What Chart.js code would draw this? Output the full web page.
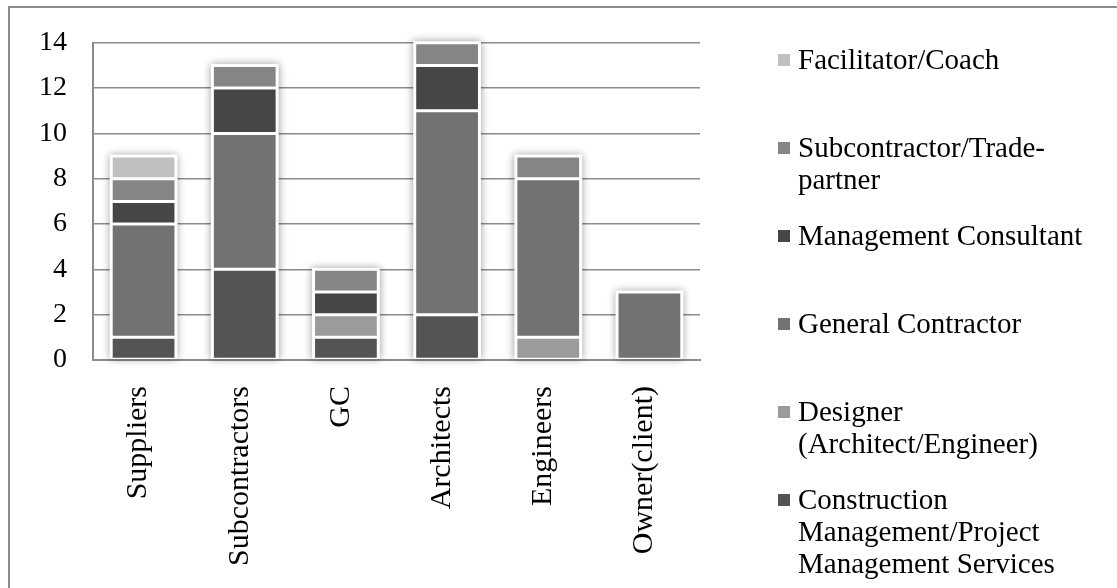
<!DOCTYPE html>
<html>
<head>
<meta charset="utf-8">
<script src="https://cdn.jsdelivr.net/npm/chart.js@4.4.1/dist/chart.umd.min.js"></script>
<style>
  html, body { margin: 0; padding: 0; background: #fff; }
  body { width: 1117px; height: 588px; overflow: hidden; position: relative; font-family: "Liberation Serif", "Times New Roman", serif; }
  #frame { position: absolute; left: 8px; top: 6px; width: 1200px; height: 700px; border-left: 2px solid #8c8c8c; border-top: 2px solid #8c8c8c; box-sizing: border-box; }
  #wrap { position: absolute; left: 0; top: 0; width: 1117px; height: 588px; }
  #legend { position: absolute; left: 778px; top: 0; width: 335px; }
  .item { position: absolute; left: 0; display: flex; align-items: flex-start; }
  .swatch { width: 12px; height: 12px; margin-top: 11px; margin-right: 8px; flex: none; }
  .text { font-size: 29px; line-height: 32px; color: #000; white-space: nowrap; }
</style>
</head>
<body>
<div id="frame"></div>
<div id="wrap"><canvas id="c"></canvas></div>
<div id="legend"></div>
<script>
// Respondent groups along the x axis
const categories = ['Suppliers', 'Subcontractors', 'GC', 'Architects', 'Engineers', 'Owner(client)'];

// Counts per role, stacked bottom to top
const constructionMgmt   = [1, 4, 1, 2, 0, 0];
const designer           = [0, 0, 1, 0, 1, 0];
const generalContractor  = [5, 6, 0, 9, 7, 3];
const mgmtConsultant     = [1, 2, 1, 2, 0, 0];
const subcontractor      = [1, 1, 1, 1, 1, 0];
const facilitator        = [1, 0, 0, 0, 0, 0];

const yTicks = [0, 2, 4, 6, 8, 10, 12, 14];

const series = [
  { label: ['Construction', 'Management/Project', 'Management Services'], data: constructionMgmt, color: '#545454' },
  { label: ['Designer', '(Architect/Engineer)'], data: designer, color: '#9b9b9b' },
  { label: ['General Contractor'], data: generalContractor, color: '#727272' },
  { label: ['Management Consultant'], data: mgmtConsultant, color: '#464646' },
  { label: ['Subcontractor/Trade-', 'partner'], data: subcontractor, color: '#858585' },
  { label: ['Facilitator/Coach'], data: facilitator, color: '#c0c0c0' }
];

const FONT = '"Liberation Serif", "Times New Roman", serif';

// Soft halo behind each stacked column
const columnHalo = {
  id: 'columnHalo',
  beforeDatasetsDraw(chart) {
    const ctx = chart.ctx;
    const n = chart.data.labels.length;
    for (let i = 0; i < n; i++) {
      let top = Infinity, bottom = -Infinity, x = 0, w = 0;
      chart.data.datasets.forEach((ds, di) => {
        if (!ds.data[i]) return;
        const el = chart.getDatasetMeta(di).data[i];
        top = Math.min(top, el.y, el.base);
        bottom = Math.max(bottom, el.y, el.base);
        x = el.x; w = el.width;
      });
      if (top === Infinity) continue;
      ctx.save();
      ctx.shadowColor = 'rgba(0,0,0,0.4)';
      ctx.shadowBlur = 8;
      ctx.fillStyle = '#fff';
      ctx.fillRect(x - w / 2 - 1.5, top - 1.5, w + 3, bottom - top + 1);
      ctx.restore();
    }
  }
};

new Chart(document.getElementById('c'), {
  type: 'bar',
  data: {
    labels: categories,
    datasets: series.map(s => ({
      label: s.label.join(' '),
      data: s.data,
      backgroundColor: s.color,
      borderColor: '#ffffff',
      borderWidth: 1.5,
      borderSkipped: false,
      barPercentage: 0.64,
      categoryPercentage: 1
    }))
  },
  options: {
    responsive: true,
    maintainAspectRatio: false,
    animation: false,
    events: [],
    layout: { padding: { left: 0, right: 417, top: 37, bottom: 0 } },
    plugins: { legend: { display: false }, tooltip: { enabled: false } },
    scales: {
      x: {
        stacked: true,
        grid: { display: false, drawTicks: false },
        border: { display: true, color: '#8c8c8c', width: 2 },
        ticks: {
          color: '#000',
          font: { family: FONT, size: 30 },
          maxRotation: 90, minRotation: 90,
          labelOffset: -5,
          padding: 26
        },
        afterFit(s) { s.height = 588 - 360; }
      },
      y: {
        stacked: true,
        min: 0, max: 14,
        afterBuildTicks(s) { s.ticks = yTicks.map(v => ({ value: v })); },
        grid: { color: '#8c8c8c', lineWidth: 1.5, drawTicks: false },
        border: { display: true, color: '#8c8c8c', width: 2 },
        ticks: {
          color: '#000',
          font: { family: FONT, size: 28 },
          padding: 26
        },
        afterFit(s) { s.width = 93; }
      }
    }
  },
  plugins: [columnHalo]
});

// Legend, listed top to bottom in reverse stacking order
const legend = document.getElementById('legend');
series.slice().reverse().forEach((s, i) => {
  const item = document.createElement('div');
  item.className = 'item';
  item.style.top = (43 + i * 88) + 'px';
  const sw = document.createElement('div');
  sw.className = 'swatch';
  sw.style.background = s.color;
  const tx = document.createElement('div');
  tx.className = 'text';
  tx.innerHTML = s.label.join('<br>');
  item.appendChild(sw);
  item.appendChild(tx);
  legend.appendChild(item);
});
</script>
</body>
</html>
